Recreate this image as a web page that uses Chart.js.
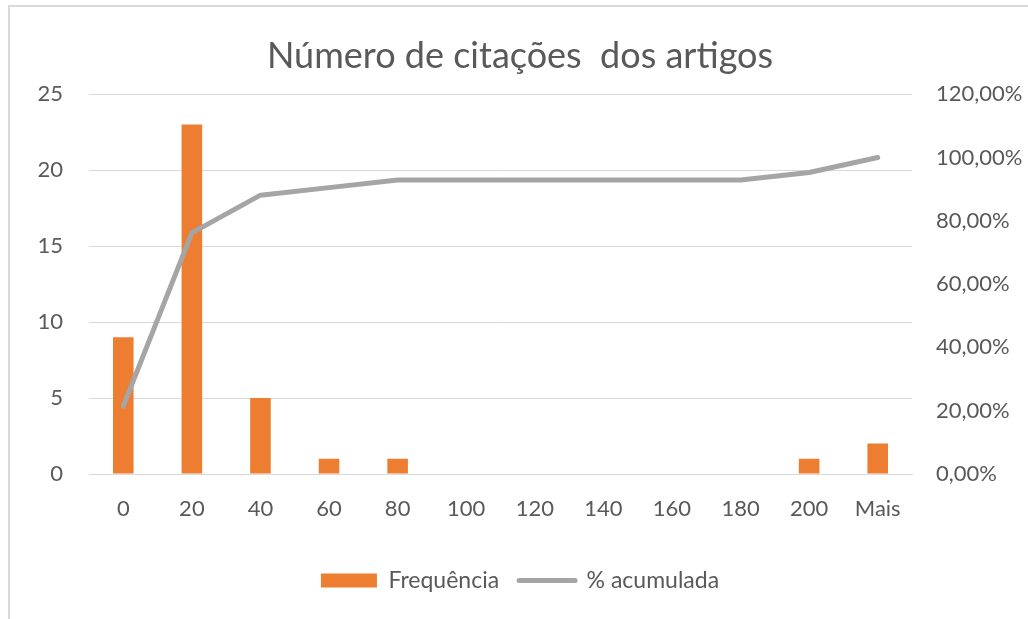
<!DOCTYPE html>
<html>
<head>
<meta charset="utf-8">
<script src="https://cdn.jsdelivr.net/npm/chart.js"></script>
<style>
  html, body { margin: 0; padding: 0; background: #fff; overflow: hidden; }
  #frame { position: absolute; left: 8px; top: 5px; width: 1200px; height: 800px;
           border: 2px solid #d9d9d9; box-sizing: border-box; }
  #wrap { position: absolute; left: 0; top: 0; width: 1040px; height: 619px; }
</style>
</head>
<body>
<div id="frame"></div>
<div id="wrap"><canvas id="myChart"></canvas></div>
<script>
var categories = ['0', '20', '40', '60', '80', '100', '120', '140', '160', '180', '200', 'Mais'];
var frequencia = [9, 23, 5, 1, 1, 0, 0, 0, 0, 0, 1, 2];
var acumulada = [0.2143, 0.7619, 0.881, 0.9048, 0.9286, 0.9286, 0.9286, 0.9286, 0.9286, 0.9286, 0.9524, 1.0];
var leftTicks = [0, 5, 10, 15, 20, 25];
var rightTicks = [0, 0.2, 0.4, 0.6, 0.8, 1.0, 1.2];

var orange = '#ed7d31';
var grey = '#a5a5a5';
var textCol = '#595959';
var fontFam = 'Lato, "Open Sans", sans-serif';

var ctx = document.getElementById('myChart').getContext('2d');
var config = {
  type: 'bar',
  data: {
    labels: categories,
    datasets: [{
      label: 'Frequência',
      data: frequencia,
      backgroundColor: orange,
      barPercentage: 0.3,
      categoryPercentage: 1,
      yAxisID: 'y',
      order: 1
    }, {
      type: 'line',
      label: '% acumulada',
      data: acumulada,
      borderColor: grey,
      borderWidth: 5,
      borderCapStyle: 'round',
      borderJoinStyle: 'round',
      pointRadius: 0,
      tension: 0,
      yAxisID: 'y2',
      order: 0
    }]
  },
  options: {
    responsive: true,
    maintainAspectRatio: false,
    animation: false,
    layout: { padding: { left: 0, right: 0, top: 0, bottom: 17 } },
    plugins: {
      tooltip: { enabled: false },
      title: {
        display: true,
        text: 'Número de citações  dos artigos',
        color: textCol,
        font: { family: fontFam, size: 36, weight: 'normal' },
        padding: { top: 35, bottom: 16 }
      },
      legend: {
        position: 'bottom',
        labels: {
          color: textCol,
          font: { family: fontFam, size: 23 },
          usePointStyle: true,
          pointStyleWidth: 56,
          boxHeight: 14,
          padding: 20,
          generateLabels: function (chart) {
            return [{
              text: 'Frequência', fillStyle: orange, strokeStyle: orange,
              lineWidth: 0, pointStyle: 'rect', datasetIndex: 0, fontColor: textCol
            }, {
              text: '% acumulada', fillStyle: grey, strokeStyle: grey,
              lineWidth: 5, lineCap: 'round', pointStyle: 'line', datasetIndex: 1, fontColor: textCol
            }];
          }
        }
      }
    },
    scales: {
      x: {
        grid: { display: false, drawTicks: false },
        border: { color: '#d9d9d9', width: 1 },
        ticks: { color: textCol, font: { family: fontFam, size: 22 }, padding: 22, maxRotation: 0 },
        afterFit: function (s) { s.height = 75; }
      },
      y: {
        position: 'left',
        min: 0, max: 25,
        afterBuildTicks: function (s) { s.ticks = leftTicks.map(function (v) { return { value: v }; }); },
        grid: { color: '#d9d9d9', drawTicks: false },
        border: { display: false },
        ticks: { color: textCol, font: { family: fontFam, size: 22 }, padding: 26 },
        afterFit: function (s) { s.width = 89; }
      },
      y2: {
        position: 'right',
        min: 0, max: 1.2,
        afterBuildTicks: function (s) { s.ticks = rightTicks.map(function (v) { return { value: v }; }); },
        grid: { display: false, drawTicks: false },
        border: { display: false },
        ticks: {
          color: textCol, font: { family: fontFam, size: 22 }, padding: 24,
          callback: function (v) { return (v * 100).toFixed(2).replace('.', ',') + '%'; }
        },
        afterFit: function (s) { s.width = 128; }
      }
    }
  }
};

var chart = new Chart(ctx, config);
</script>
</body>
</html>
